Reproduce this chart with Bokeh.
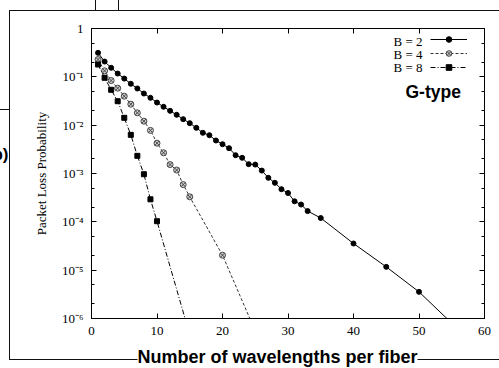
from bokeh.plotting import figure
from bokeh.models import (LinearAxis, LogAxis, FixedTicker, CustomJSTickFormatter, Range1d,
                          Legend, LegendItem, Label)
from bokeh.embed import file_html
from bokeh.resources import INLINE

# ---- data ----
x_b2 = [1, 2, 3, 4, 5, 6, 7, 8, 9, 10, 11, 12, 13, 14, 15, 16, 17, 18, 19, 20,
        21, 22, 23, 24, 25, 26, 27, 28, 29, 30, 31, 32, 33, 35, 40, 45, 50, 55]
y_b2 = [0.314, 0.207, 0.154, 0.117, 0.092, 0.0718, 0.0574, 0.0452, 0.0368, 0.0294,
        0.0240, 0.0198, 0.0164, 0.0133, 0.0110, 0.00881, 0.00695, 0.00620, 0.00482, 0.00404,
        0.00334, 0.00239, 0.00211, 0.00156, 0.00153, 0.00115, 0.000814, 0.000641, 0.000473, 0.000395,
        0.000266, 0.000228, 0.000167, 0.000120, 3.56e-5, 1.17e-5, 3.56e-6, 8.0e-7]

x_b4 = [1, 2, 3, 4, 5, 6, 7, 8, 9, 10, 11, 12, 13, 14, 15, 20, 25]
y_b4 = [0.228, 0.133, 0.0839, 0.0582, 0.0398, 0.0272, 0.0180, 0.0121, 0.00780, 0.00424,
        0.00268, 0.00153, 0.00118, 0.00059, 0.000329, 2.04e-5, 5.5e-7]

x_b8 = [1, 2, 3, 4, 5, 6, 7, 8, 9, 10, 15]
y_b8 = [0.180, 0.0955, 0.0539, 0.0313, 0.0142, 0.00631, 0.00232, 0.000967, 0.000292, 0.000103, 4.6e-7]

series_labels = ["B = 2", "B = 4", "B = 8"]
x_ticks = [0, 10, 20, 30, 40, 50, 60]
y_major = [1e-6, 1e-5, 1e-4, 1e-3, 1e-2, 1e-1, 1.0]
y_minor = [2e-6, 5e-6, 2e-5, 5e-5, 2e-4, 5e-4, 2e-3, 5e-3, 2e-2, 5e-2, 0.2, 0.5]
y_title = "Packet Loss Probability"
x_title = "Number of wavelengths per fiber"
panel_tag = "G-type"
panel_letter = "b)"

SERIF = "Liberation Serif"
SANS = "Liberation Sans"

# thin rules of the surrounding (scanned) page: (left, top, width, height) in px
page_rules = [(9, 10, 1, 349), (9, 10, 490, 1), (9, 359, 490, 1),
              (95, 0, 1, 10), (118, 0, 1, 10), (0, 109, 9, 1)]

p = figure(width=499, height=368, x_range=Range1d(0, 60), y_range=Range1d(1e-6, 1),
           y_axis_type="log", output_backend="svg", toolbar_location=None,
           min_border_left=91, min_border_right=15, min_border_top=28, min_border_bottom=50)
p.background_fill_color = "white"
p.border_fill_alpha = 0
p.outline_line_color = "black"
p.outline_line_width = 1
p.xgrid.visible = False
p.ygrid.visible = False
p.styles = {
    "background-color": "white",
    "background-image": ", ".join(["linear-gradient(#111, #111)"] * len(page_rules)),
    "background-size": ", ".join(f"{w}px {h}px" for (_, _, w, h) in page_rules),
    "background-position": ", ".join(f"{l}px {t}px" for (l, t, _, _) in page_rules),
    "background-repeat": "no-repeat",
}

sup_fmt = CustomJSTickFormatter(code="""
const e = Math.round(Math.log10(tick));
if (e === 0) return "1";
const sup = {"-":"\u207b","0":"\u2070","1":"\u00b9","2":"\u00b2","3":"\u00b3","4":"\u2074",
             "5":"\u2075","6":"\u2076","7":"\u2077","8":"\u2078","9":"\u2079"};
return "10" + String(e).split("").map(c => sup[c]).join("");
""")
blank_fmt = CustomJSTickFormatter(code="return '';")

xt = FixedTicker(ticks=x_ticks)
yt = FixedTicker(ticks=y_major, minor_ticks=y_minor)

def style(ax):
    ax.axis_line_color = "black"
    ax.major_tick_line_color = "black"
    ax.minor_tick_line_color = "black"
    ax.major_tick_in = 5
    ax.major_tick_out = 0
    ax.minor_tick_in = 3
    ax.minor_tick_out = 0
    ax.major_label_text_font = SERIF
    ax.major_label_text_font_size = "13px"
    ax.major_label_text_color = "black"

xa = p.xaxis[0]
xa.ticker = xt
style(xa)
xa.minor_tick_line_color = None
xa.major_label_standoff = 8

ya = p.yaxis[0]
ya.ticker = yt
ya.formatter = sup_fmt
style(ya)
ya.major_label_standoff = 8
ya.axis_label = y_title
ya.axis_label_text_font = SERIF
ya.axis_label_text_font_style = "normal"
ya.axis_label_text_font_size = "13px"
ya.axis_label_text_color = "black"
ya.axis_label_standoff = 10

top_ax = LinearAxis(ticker=xt, formatter=blank_fmt, major_label_standoff=0)
style(top_ax)
top_ax.minor_tick_line_color = None
p.add_layout(top_ax, "above")

right_ax = LogAxis(ticker=yt, formatter=blank_fmt, major_label_standoff=0)
style(right_ax)
p.add_layout(right_ax, "right")

# ---- series ----
l2 = p.line(x_b2, y_b2, line_color="black", line_width=1)
s2 = p.scatter(x_b2, y_b2, marker="circle", size=5, fill_color="black", line_color="black")
l4 = p.line(x_b4, y_b4, line_color="#333333", line_width=1, line_dash="3 2")
s4 = p.scatter(x_b4, y_b4, marker="circle_x", size=6, fill_color="#d0d0d0", line_color="#444444")
l8 = p.line(x_b8, y_b8, line_color="black", line_width=1, line_dash="5 2 1 2")
s8 = p.scatter(x_b8, y_b8, marker="square", size=5, fill_color="black", line_color="black")

legend = Legend(items=[LegendItem(label=" ", renderers=[l2, s2]),
                       LegendItem(label=" ", renderers=[l4, s4]),
                       LegendItem(label=" ", renderers=[l8, s8])],
                location=(339, 244), padding=0, margin=0, spacing=0,
                glyph_width=37, glyph_height=14, label_height=14, label_width=5,
                label_standoff=0, border_line_color=None, background_fill_alpha=0,
                label_text_font_size="10px")
p.add_layout(legend)

for lab, sy in zip(series_labels, [277.3, 264.3, 250.7]):
    p.add_layout(Label(x=331, y=sy, x_units="screen", y_units="screen", text=lab,
                       text_align="right", text_baseline="alphabetic",
                       text_font=SERIF, text_font_size="13px", text_color="black"))

p.add_layout(Label(x=341.7, y=226.3, x_units="screen", y_units="screen", text=panel_tag,
                   text_align="center", text_baseline="alphabetic",
                   text_font=SANS, text_font_style="bold", text_font_size="17.5px",
                   text_color="black"))

# texts of the surrounding page (side panels are not clipped to the plot frame)
p.add_layout(Label(x=28.4, y=1.596e-7, text=x_title,
                   text_align="center", text_baseline="middle",
                   text_font=SANS, text_font_style="bold", text_font_size="18px",
                   text_color="black", background_fill_color="white"), "below")
p.add_layout(Label(x=-12.67, y=2.47e-3, text=panel_letter,
                   text_align="right", text_baseline="middle",
                   text_font=SANS, text_font_style="bold", text_font_size="17px",
                   text_color="black"), "left")

open("out.html", "w").write(file_html(p, INLINE))
